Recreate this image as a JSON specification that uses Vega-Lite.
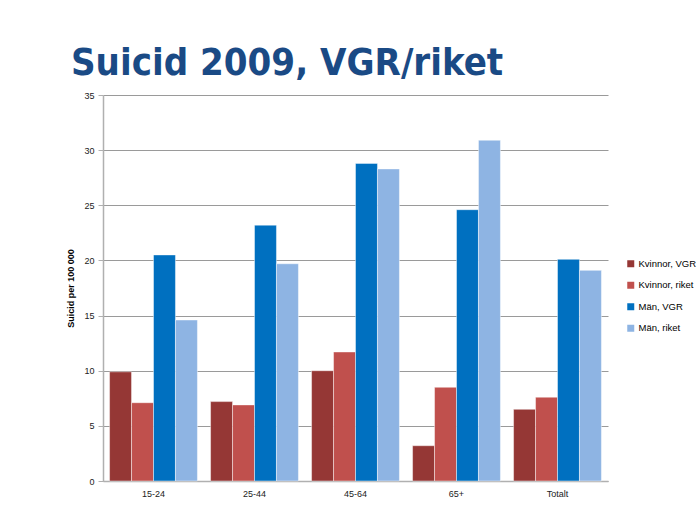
{
  "$schema": "https://vega.github.io/schema/vega-lite/v6.json",
  "autosize": "none",
  "width": 505,
  "height": 386,
  "padding": {"left": 103, "top": 95, "right": 89, "bottom": 36},
  "background": "#ffffff",
  "title": {
    "text": "Suicid 2009, VGR/riket",
    "anchor": "start",
    "frame": "group",
    "font": "DejaVu Sans Condensed",
    "fontWeight": "bold",
    "fontSize": 38,
    "color": "#1A4A85",
    "dx": -32,
    "dy": 37,
    "offset": 15,
    "baseline": "alphabetic"
  },
  "data": {
    "values": [
      {"grupp": "15-24", "serie": "Kvinnor, VGR", "varde": 9.9},
      {"grupp": "15-24", "serie": "Kvinnor, riket", "varde": 7.1},
      {"grupp": "15-24", "serie": "Män, VGR", "varde": 20.5},
      {"grupp": "15-24", "serie": "Män, riket", "varde": 14.6},
      {"grupp": "25-44", "serie": "Kvinnor, VGR", "varde": 7.2},
      {"grupp": "25-44", "serie": "Kvinnor, riket", "varde": 6.9},
      {"grupp": "25-44", "serie": "Män, VGR", "varde": 23.2},
      {"grupp": "25-44", "serie": "Män, riket", "varde": 19.7},
      {"grupp": "45-64", "serie": "Kvinnor, VGR", "varde": 10.0},
      {"grupp": "45-64", "serie": "Kvinnor, riket", "varde": 11.7},
      {"grupp": "45-64", "serie": "Män, VGR", "varde": 28.8},
      {"grupp": "45-64", "serie": "Män, riket", "varde": 28.3},
      {"grupp": "65+", "serie": "Kvinnor, VGR", "varde": 3.2},
      {"grupp": "65+", "serie": "Kvinnor, riket", "varde": 8.5},
      {"grupp": "65+", "serie": "Män, VGR", "varde": 24.6},
      {"grupp": "65+", "serie": "Män, riket", "varde": 30.9},
      {"grupp": "Totalt", "serie": "Kvinnor, VGR", "varde": 6.5},
      {"grupp": "Totalt", "serie": "Kvinnor, riket", "varde": 7.6},
      {"grupp": "Totalt", "serie": "Män, VGR", "varde": 20.1},
      {"grupp": "Totalt", "serie": "Män, riket", "varde": 19.1}
    ]
  },
  "mark": {"type": "bar", "stroke": "#ffffff", "strokeOpacity": 0.45, "strokeWidth": 1},
  "encoding": {
    "x": {
      "field": "grupp",
      "type": "nominal",
      "sort": ["15-24", "25-44", "45-64", "65+", "Totalt"],
      "scale": {"paddingInner": 0.13, "paddingOuter": 0.065},
      "axis": {
        "title": null,
        "labelAngle": 0,
        "ticks": false,
        "labelPadding": 8,
        "labelFont": "Liberation Sans",
        "labelFontSize": 9,
        "labelColor": "#222222",
        "domainColor": "#b0b0b0",
        "domainWidth": 1.5
      }
    },
    "xOffset": {
      "field": "serie",
      "type": "nominal",
      "sort": ["Kvinnor, VGR", "Kvinnor, riket", "Män, VGR", "Män, riket"],
      "scale": {"paddingInner": 0, "paddingOuter": 0}
    },
    "y": {
      "field": "varde",
      "type": "quantitative",
      "scale": {"domain": [0, 35], "nice": false},
      "axis": {
        "title": "Suicid per 100 000",
        "titleFont": "Liberation Sans",
        "titleFontSize": 9,
        "titleFontWeight": "bold",
        "titleColor": "#000000",
        "titlePadding": 8,
        "values": [0, 5, 10, 15, 20, 25, 30, 35],
        "labelFont": "Liberation Sans",
        "labelFontSize": 9,
        "labelColor": "#222222",
        "labelPadding": 4,
        "tickSize": 5,
        "tickColor": "#b0b0b0",
        "domainColor": "#b0b0b0",
        "domainWidth": 1.5,
        "grid": true,
        "gridColor": "#9a9a9a",
        "gridWidth": 1
      }
    },
    "color": {
      "field": "serie",
      "type": "nominal",
      "sort": ["Kvinnor, VGR", "Kvinnor, riket", "Män, VGR", "Män, riket"],
      "scale": {
        "domain": ["Kvinnor, VGR", "Kvinnor, riket", "Män, VGR", "Män, riket"],
        "range": ["#953735", "#C0504D", "#0070C0", "#8EB4E3"]
      },
      "legend": {
        "title": null,
        "orient": "none",
        "legendX": 523,
        "legendY": 164,
        "symbolType": "square",
        "symbolSize": 49,
        "symbolStrokeWidth": 0,
        "labelFont": "Liberation Sans",
        "labelFontSize": 9.5,
        "labelColor": "#000000",
        "labelOffset": 3,
        "rowPadding": 10.5,
        "labelLimit": 200
      }
    }
  },
  "config": {
    "view": {"stroke": null}
  }
}
